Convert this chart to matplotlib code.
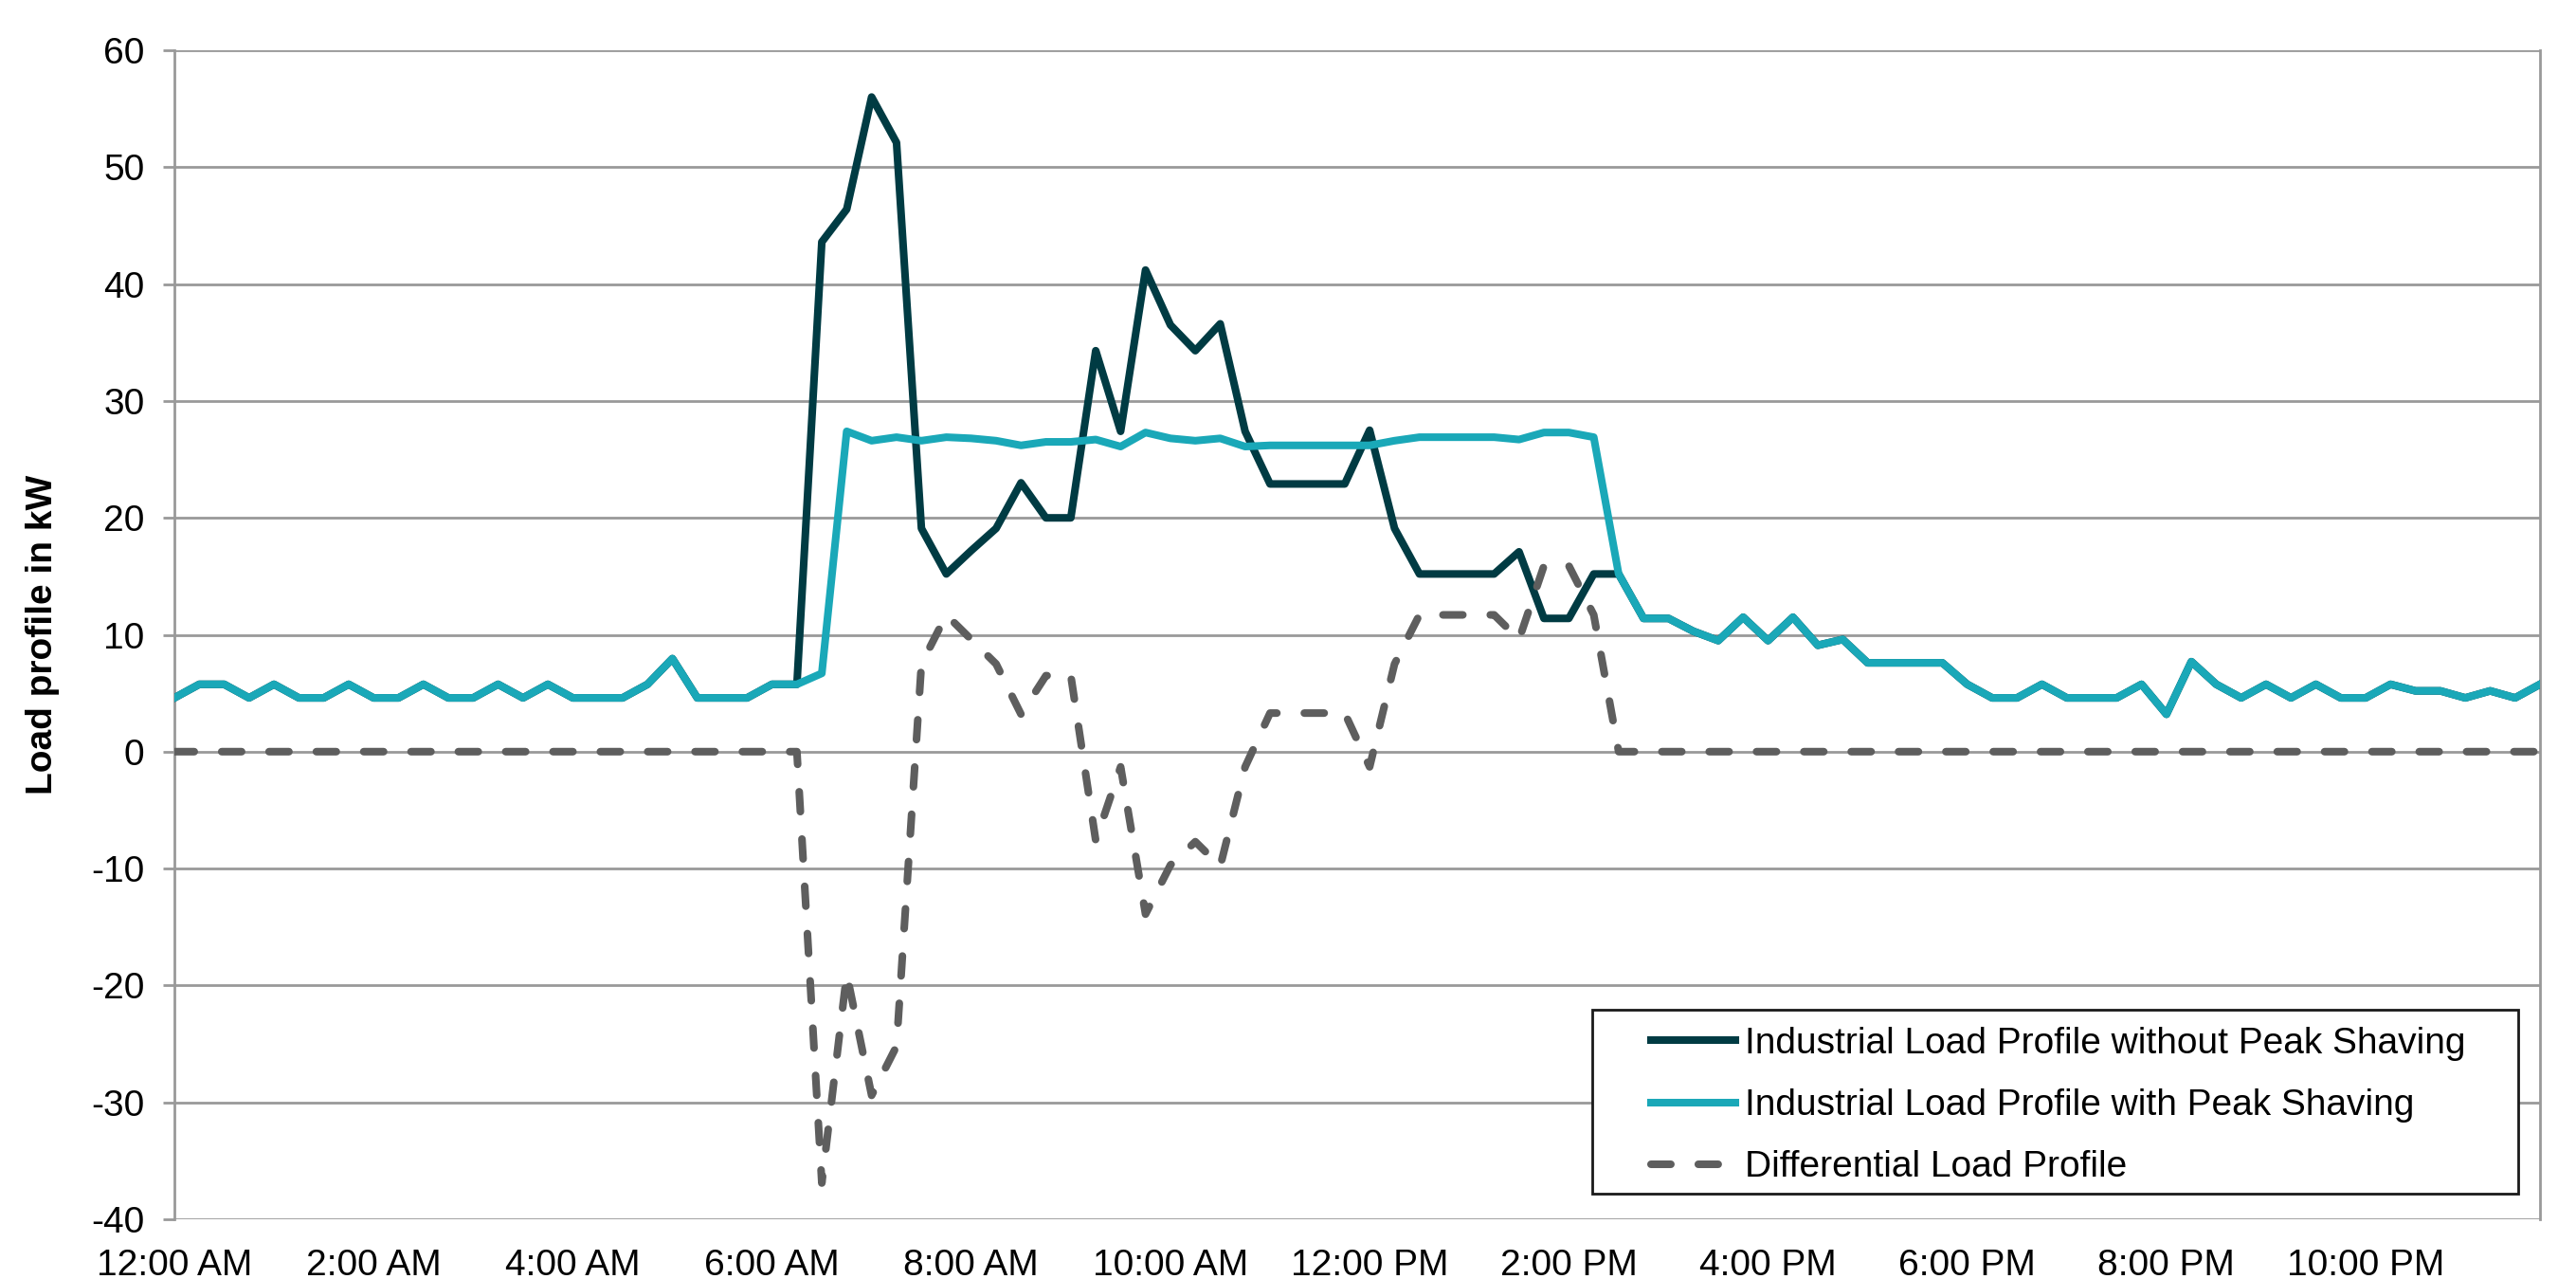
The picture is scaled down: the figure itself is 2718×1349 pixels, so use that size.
import numpy as np
import matplotlib.pyplot as plt
from matplotlib.patches import Rectangle

plt.rcParams['font.family'] = ['Liberation Sans', 'DejaVu Sans']
plt.rcParams['axes.unicode_minus'] = False

# 15-minute steps over one day
hours = np.arange(96) * 0.25

tick_hours = [0, 2, 4, 6, 8, 10, 12, 14, 16, 18, 20, 22]
tick_labels = ['12:00 AM', '2:00 AM', '4:00 AM', '6:00 AM', '8:00 AM', '10:00 AM',
               '12:00 PM', '2:00 PM', '4:00 PM', '6:00 PM', '8:00 PM', '10:00 PM']

with_shaving = [
    4.6, 5.76, 5.76, 4.6, 5.76, 4.6, 4.6, 5.76, 4.6, 4.6, 5.76, 4.6,
    4.6, 5.76, 4.6, 5.76, 4.6, 4.6, 4.6, 5.76, 7.96, 4.6, 4.6, 4.6,
    5.76, 5.76, 6.7, 27.4, 26.6, 26.9, 26.6, 26.9, 26.8, 26.6, 26.2, 26.5,
    26.5, 26.7, 26.1, 27.3, 26.8, 26.6, 26.8, 26.1, 26.2, 26.2, 26.2, 26.2,
    26.2, 26.6, 26.9, 26.9, 26.9, 26.9, 26.7, 27.3, 27.3, 26.9, 15.2, 11.4,
    11.4, 10.3, 9.5, 11.5, 9.5, 11.5, 9.1, 9.6, 7.6, 7.6, 7.6, 7.6,
    5.76, 4.6, 4.6, 5.76, 4.6, 4.6, 4.6, 5.76, 3.2, 7.7, 5.76, 4.6,
    5.76, 4.6, 5.76, 4.6, 4.6, 5.76, 5.2, 5.2, 4.6, 5.2, 4.6, 5.76,
]

without_shaving = [
    4.6, 5.76, 5.76, 4.6, 5.76, 4.6, 4.6, 5.76, 4.6, 4.6, 5.76, 4.6,
    4.6, 5.76, 4.6, 5.76, 4.6, 4.6, 4.6, 5.76, 7.96, 4.6, 4.6, 4.6,
    5.76, 5.76, 43.6, 46.4, 56.0, 52.1, 19.1, 15.2, 17.2, 19.1, 23.0, 20.0,
    20.0, 34.3, 27.4, 41.2, 36.5, 34.3, 36.6, 27.4, 22.9, 22.9, 22.9, 22.9,
    27.5, 19.1, 15.2, 15.2, 15.2, 15.2, 17.1, 11.4, 11.4, 15.2, 15.2, 11.4,
    11.4, 10.3, 9.5, 11.5, 9.5, 11.5, 9.1, 9.6, 7.6, 7.6, 7.6, 7.6,
    5.76, 4.6, 4.6, 5.76, 4.6, 4.6, 4.6, 5.76, 3.2, 7.7, 5.76, 4.6,
    5.76, 4.6, 5.76, 4.6, 4.6, 5.76, 5.2, 5.2, 4.6, 5.2, 4.6, 5.76,
]

differential = [
    0, 0, 0, 0, 0, 0, 0, 0, 0, 0, 0, 0,
    0, 0, 0, 0, 0, 0, 0, 0, 0, 0, 0, 0,
    0, 0, -36.9, -19.0, -29.4, -25.2, 7.5, 11.7, 9.6, 7.5, 3.2, 6.5,
    6.5, -7.6, -1.3, -13.9, -9.7, -7.7, -9.8, -1.3, 3.3, 3.3, 3.3, 3.3,
    -1.3, 7.5, 11.7, 11.7, 11.7, 11.7, 9.6, 15.9, 15.9, 11.7, 0, 0,
    0, 0, 0, 0, 0, 0, 0, 0, 0, 0, 0, 0,
    0, 0, 0, 0, 0, 0, 0, 0, 0, 0, 0, 0,
    0, 0, 0, 0, 0, 0, 0, 0, 0, 0, 0, 0,
]

W, H = 2718, 1349
fig = plt.figure(figsize=(W / 200, H / 200), dpi=200)
ax = fig.add_axes([184 / W, 1 - 1286 / H, (2680 - 184) / W, (1286 - 53) / H])

lw = 2.9
ax.plot(hours, without_shaving, color='#003B43', lw=lw, zorder=3,
        label='Industrial Load Profile without Peak Shaving')
ax.plot(hours, with_shaving, color='#1AA8B8', lw=lw, zorder=4,
        label='Industrial Load Profile with Peak Shaving')
ax.plot(hours, differential, color='#5E5E5E', lw=lw, dashes=(2.6, 3.6), dash_capstyle='round',
        zorder=5, label='Differential Load Profile')

ax.set_xlim(0, 23.75)
ax.set_ylim(-40, 60)
ax.set_yticks(range(-40, 61, 10))
ax.set_xticks(tick_hours)
ax.set_xticklabels(tick_labels)
ax.tick_params(axis='x', length=0, pad=11, labelsize=14)
ax.tick_params(axis='y', length=4.3, width=1, color='#999999', pad=7, labelsize=14)

ax.grid(axis='y', color='#999999', lw=1, zorder=1)
ax.set_axisbelow(True)
for s in ['top', 'bottom']:
    ax.spines[s].set_visible(False)
for s in ['left', 'right']:
    ax.spines[s].set_color('#999999')
    ax.spines[s].set_linewidth(1)

ax.set_ylabel('Load profile in kW', fontsize=14, fontweight='bold', labelpad=12)

# legend frame drawn by hand (the original has wide left padding)
frame = Rectangle((1680 / W, 1 - 1259 / H), (2657 - 1680) / W, (1259 - 1065) / H,
                  transform=fig.transFigure, facecolor='white', edgecolor='#1a1a1a',
                  lw=1, zorder=6)
ax.add_patch(frame)
leg = ax.legend(loc='upper left', bbox_to_anchor=(1742 / W, 1 - 1083 / H),
                bbox_transform=fig.transFigure, frameon=False, fontsize=14,
                handlelength=2.3, handletextpad=0.25, labelspacing=0.75,
                borderpad=0, borderaxespad=0)
leg.set_zorder(7)

fig.savefig('out.png', dpi=200)
